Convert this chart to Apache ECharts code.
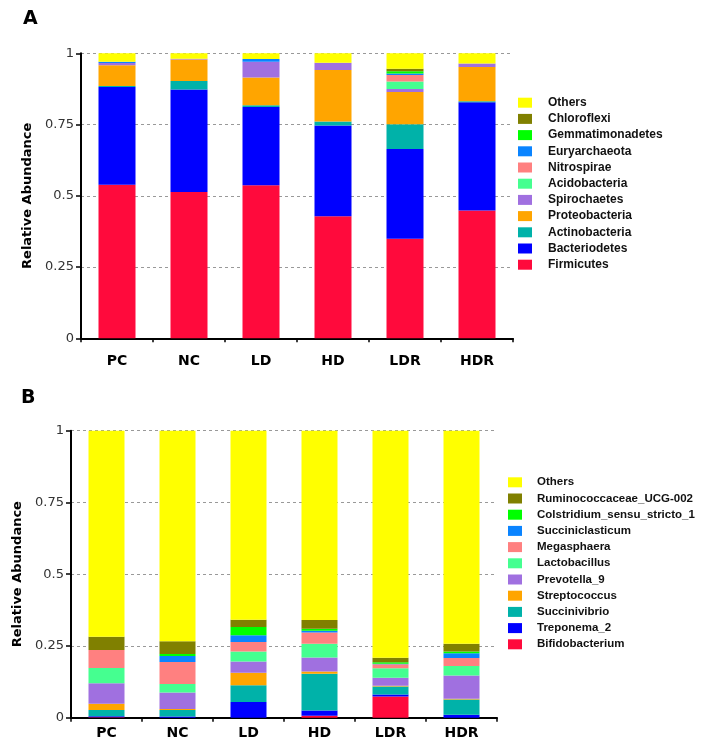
<!DOCTYPE html>
<html><head><meta charset="utf-8">
<script src="https://cdn.jsdelivr.net/npm/echarts@6/dist/echarts.min.js"></script>
<style>html,body{margin:0;padding:0;background:#fff}#c{width:702px;height:754px}</style>
</head><body><div id="c"></div>
<script>
const categories = ['PC','NC','LD','HD','LDR','HDR'];
const yTicks = [0, 0.25, 0.5, 0.75, 1];

// Panel A (phylum)
const firmicutes       = [0.539,0.513,0.537,0.428,0.349,0.448];
const bacteriodetes    = [0.343,0.360,0.275,0.319,0.315,0.380];
const actinobacteria   = [0.003,0.030,0.006,0.014,0.087,0.004];
const proteobacteria   = [0.073,0.075,0.097,0.180,0.113,0.120];
const spirochaetes     = [0.008,0.003,0.055,0.026,0.011,0.012];
const acidobacteria    = [0,0,0,0,0.026,0];
const nitrospirae      = [0,0,0,0,0.023,0];
const euryarchaeota    = [0.004,0,0.010,0,0.005,0];
const gemmatimonadetes = [0,0,0,0,0.008,0];
const chloroflexi      = [0,0,0,0,0.009,0];
const othersA          = [0.030,0.019,0.020,0.033,0.054,0.036];

// Panel B (genus)
const bifidobacterium  = [0.002,0,0,0.007,0.074,0];
const treponema2       = [0.003,0.004,0.055,0.018,0.007,0.010];
const succinivibrio    = [0.022,0.023,0.058,0.128,0.028,0.053];
const streptococcus    = [0.022,0.003,0.044,0.008,0.002,0.003];
const prevotella9      = [0.071,0.058,0.039,0.049,0.028,0.081];
const lactobacillus    = [0.053,0.029,0.035,0.048,0.033,0.033];
const megasphaera      = [0.063,0.077,0.033,0.039,0.014,0.028];
const succiniclasticum = [0,0.021,0.023,0.006,0.002,0.017];
const colstridium      = [0,0.007,0.029,0.007,0.005,0.006];
const ruminococcaceae  = [0.046,0.044,0.025,0.030,0.016,0.027];
const othersB          = [0.718,0.734,0.659,0.660,0.791,0.742];

const namesA = ['Firmicutes','Bacteriodetes','Actinobacteria','Proteobacteria','Spirochaetes','Acidobacteria','Nitrospirae','Euryarchaeota','Gemmatimonadetes','Chloroflexi','Others'];
const dataA = [firmicutes,bacteriodetes,actinobacteria,proteobacteria,spirochaetes,acidobacteria,nitrospirae,euryarchaeota,gemmatimonadetes,chloroflexi,othersA];
const namesB = ['Bifidobacterium','Treponema_2','Succinivibrio','Streptococcus','Prevotella_9','Lactobacillus','Megasphaera','Succiniclasticum','Colstridium_sensu_stricto_1','Ruminococcaceae_UCG-002','Others'];
const dataB = [bifidobacterium,treponema2,succinivibrio,streptococcus,prevotella9,lactobacillus,megasphaera,succiniclasticum,colstridium,ruminococcaceae,othersB];
const colors = ['#FF0A3C','#0000FF','#00B2A9','#FFA500','#A070E0','#45FF90','#FF8080','#0A84FF','#00FF00','#808000','#FFFF00'];

const chart = echarts.init(document.getElementById('c'), null, {renderer:'canvas'});

function xAx(gi, margin){
  return {type:'category', gridIndex:gi, data:categories,
    axisLine:{lineStyle:{color:'#000', width:2}},
    axisTick:{show:true, length:4, lineStyle:{color:'#000', width:1.5}},
    axisLabel:{margin:margin, color:'#000', fontFamily:'DejaVu Sans', fontWeight:'bold', fontSize:14},
    splitLine:{show:false}};
}
function yAx(gi){
  return {type:'value', gridIndex:gi, min:0, max:1, interval:0.25,
    name:'Relative Abundance', nameLocation:'middle', nameGap:47, nameRotate:90,
    nameTextStyle:{fontFamily:'DejaVu Sans', fontWeight:'bold', fontSize:13, color:'#000'},
    axisLine:{show:true, lineStyle:{color:'#000', width:2}},
    axisTick:{show:true, length:5, lineStyle:{color:'#000', width:1.5}},
    axisLabel:{margin:7, color:'#333', fontFamily:'DejaVu Sans', fontSize:13,
      formatter: v => String(yTicks.find(t => Math.abs(t - v) < 1e-9) ?? v)},
    splitLine:{show:true, lineStyle:{color:'#999', type:[3,3], width:1}}};
}

const series = [];
namesA.forEach((n,i)=>series.push({name:n, type:'bar', stack:'A', xAxisIndex:0, yAxisIndex:0, barWidth:37, data:dataA[i], itemStyle:{color:colors[i]}}));
namesB.forEach((n,i)=>series.push({name:n, type:'bar', stack:'B', xAxisIndex:1, yAxisIndex:1, barWidth:36, data:dataB[i], itemStyle:{color:colors[i]}}));

function legend(names, left, top, pad, fs){
  return {orient:'vertical', left:left, top:top, data:names.slice().reverse(), icon:'rect',
    itemWidth:14, itemHeight:10, itemGap:4.2, selectedMode:false,
    textStyle:{fontFamily:'Liberation Sans', fontWeight:'bold', fontSize:fs, lineHeight:12, color:'#111', padding:[0,0,0,pad]}};
}

chart.setOption({
  animation:false,
  backgroundColor:'#fff',
  grid:[{left:81, top:53.3, width:432, height:285},{left:71, top:430.7, width:426, height:287}],
  xAxis:[xAx(0,16), xAx(1,9)],
  yAxis:[yAx(0), yAx(1)],
  legend:[legend(namesA, 513, 91.7, 11, 12), legend(namesB, 503, 471.3, 10, 11.5)],
  graphic:[
    {type:'text', left:23, top:10, style:{text:'A', font:'bold 19px "DejaVu Sans"', fill:'#000'}},
    {type:'text', left:21, top:389, style:{text:'B', font:'bold 19px "DejaVu Sans"', fill:'#000'}}
  ],
  series:series
});
</script></body></html>
